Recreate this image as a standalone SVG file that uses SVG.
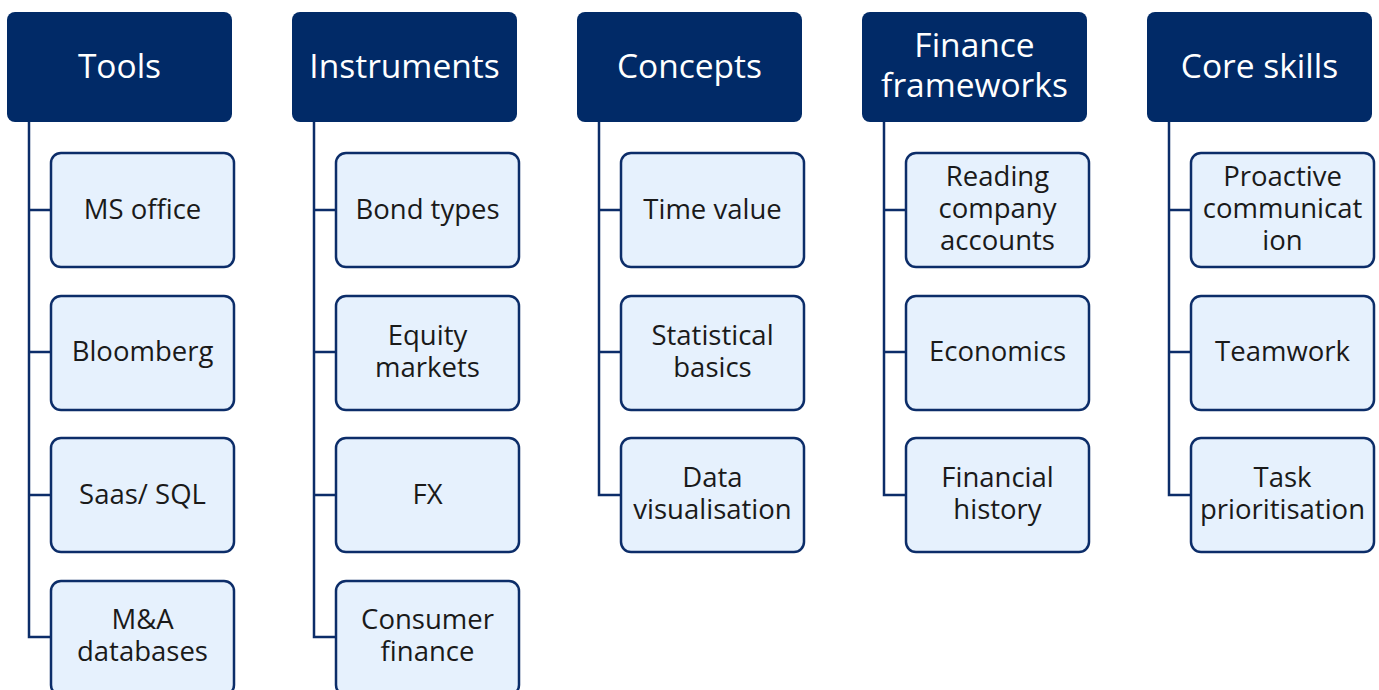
<svg xmlns="http://www.w3.org/2000/svg" width="1379" height="690" viewBox="0 0 1379 690">
<style>
.hd{fill:#012a67;}
.ch{fill:#e6f1fd;stroke:#0c2d69;stroke-width:2.5;}
.ht{font-family:"Open Sans","Liberation Sans",sans-serif;font-size:33.5px;fill:#ffffff;text-anchor:middle;}
.ct{font-family:"Open Sans","Liberation Sans",sans-serif;font-size:27.5px;fill:#1a1a1a;text-anchor:middle;}
.cn{fill:none;stroke:#0c2d69;stroke-width:2.5;}
</style>
<rect width="1379" height="690" fill="#ffffff"/>
<g id="connectors">
<path class="cn" d="M29 122 V637 H51 M29 210 H51 M29 352 H51 M29 495 H51"/>
<path class="cn" d="M314 122 V637 H336 M314 210 H336 M314 352 H336 M314 495 H336"/>
<path class="cn" d="M599 122 V495 H621 M599 210 H621 M599 352 H621"/>
<path class="cn" d="M884 122 V495 H906 M884 210 H906 M884 352 H906"/>
<path class="cn" d="M1169 122 V495 H1191 M1169 210 H1191 M1169 352 H1191"/>
</g>
<g id="h-tools"><rect class="hd" x="7" y="12" width="225" height="110" rx="8"/><text class="ht" x="119.5" y="78">Tools</text></g>
<g id="h-instruments"><rect class="hd" x="292" y="12" width="225" height="110" rx="8"/><text class="ht" x="404.5" y="78">Instruments</text></g>
<g id="h-concepts"><rect class="hd" x="577" y="12" width="225" height="110" rx="8"/><text class="ht" x="689.5" y="78">Concepts</text></g>
<g id="h-finance"><rect class="hd" x="862" y="12" width="225" height="110" rx="8"/><text class="ht" x="974.5" y="57">Finance</text><text class="ht" x="974.5" y="97">frameworks</text></g>
<g id="h-core"><rect class="hd" x="1147" y="12" width="225" height="110" rx="8"/><text class="ht" x="1259.5" y="78">Core skills</text></g>

<g id="c-msoffice"><rect class="ch" x="51" y="153" width="183" height="114" rx="10"/><text class="ct" x="142.5" y="219">MS office</text></g>
<g id="c-bloomberg"><rect class="ch" x="51" y="296" width="183" height="114" rx="10"/><text class="ct" x="142.5" y="361">Bloomberg</text></g>
<g id="c-saas"><rect class="ch" x="51" y="438" width="183" height="114" rx="10"/><text class="ct" x="142.5" y="504">Saas/ SQL</text></g>
<g id="c-ma"><rect class="ch" x="51" y="581" width="183" height="114" rx="10"/><text class="ct" x="142.5" y="629">M&amp;A</text><text class="ct" x="142.5" y="661">databases</text></g>

<g id="c-bond"><rect class="ch" x="336" y="153" width="183" height="114" rx="10"/><text class="ct" x="427.5" y="219">Bond types</text></g>
<g id="c-equity"><rect class="ch" x="336" y="296" width="183" height="114" rx="10"/><text class="ct" x="427.5" y="345">Equity</text><text class="ct" x="427.5" y="377">markets</text></g>
<g id="c-fx"><rect class="ch" x="336" y="438" width="183" height="114" rx="10"/><text class="ct" x="427.5" y="504">FX</text></g>
<g id="c-consumer"><rect class="ch" x="336" y="581" width="183" height="114" rx="10"/><text class="ct" x="427.5" y="629">Consumer</text><text class="ct" x="427.5" y="661">finance</text></g>

<g id="c-time"><rect class="ch" x="621" y="153" width="183" height="114" rx="10"/><text class="ct" x="712.5" y="219">Time value</text></g>
<g id="c-stat"><rect class="ch" x="621" y="296" width="183" height="114" rx="10"/><text class="ct" x="712.5" y="345">Statistical</text><text class="ct" x="712.5" y="377">basics</text></g>
<g id="c-data"><rect class="ch" x="621" y="438" width="183" height="114" rx="10"/><text class="ct" x="712.5" y="487">Data</text><text class="ct" x="712.5" y="519">visualisation</text></g>

<g id="c-reading"><rect class="ch" x="906" y="153" width="183" height="114" rx="10"/><text class="ct" x="997.5" y="186">Reading</text><text class="ct" x="997.5" y="218">company</text><text class="ct" x="997.5" y="250">accounts</text></g>
<g id="c-econ"><rect class="ch" x="906" y="296" width="183" height="114" rx="10"/><text class="ct" x="997.5" y="361">Economics</text></g>
<g id="c-history"><rect class="ch" x="906" y="438" width="183" height="114" rx="10"/><text class="ct" x="997.5" y="487">Financial</text><text class="ct" x="997.5" y="519">history</text></g>

<g id="c-proactive"><rect class="ch" x="1191" y="153" width="183" height="114" rx="10"/><text class="ct" x="1282.5" y="186">Proactive</text><text class="ct" x="1282.5" y="218">communicat</text><text class="ct" x="1282.5" y="250">ion</text></g>
<g id="c-team"><rect class="ch" x="1191" y="296" width="183" height="114" rx="10"/><text class="ct" x="1282.5" y="361">Teamwork</text></g>
<g id="c-task"><rect class="ch" x="1191" y="438" width="183" height="114" rx="10"/><text class="ct" x="1282.5" y="487">Task</text><text class="ct" x="1282.5" y="519">prioritisation</text></g>
</svg>
